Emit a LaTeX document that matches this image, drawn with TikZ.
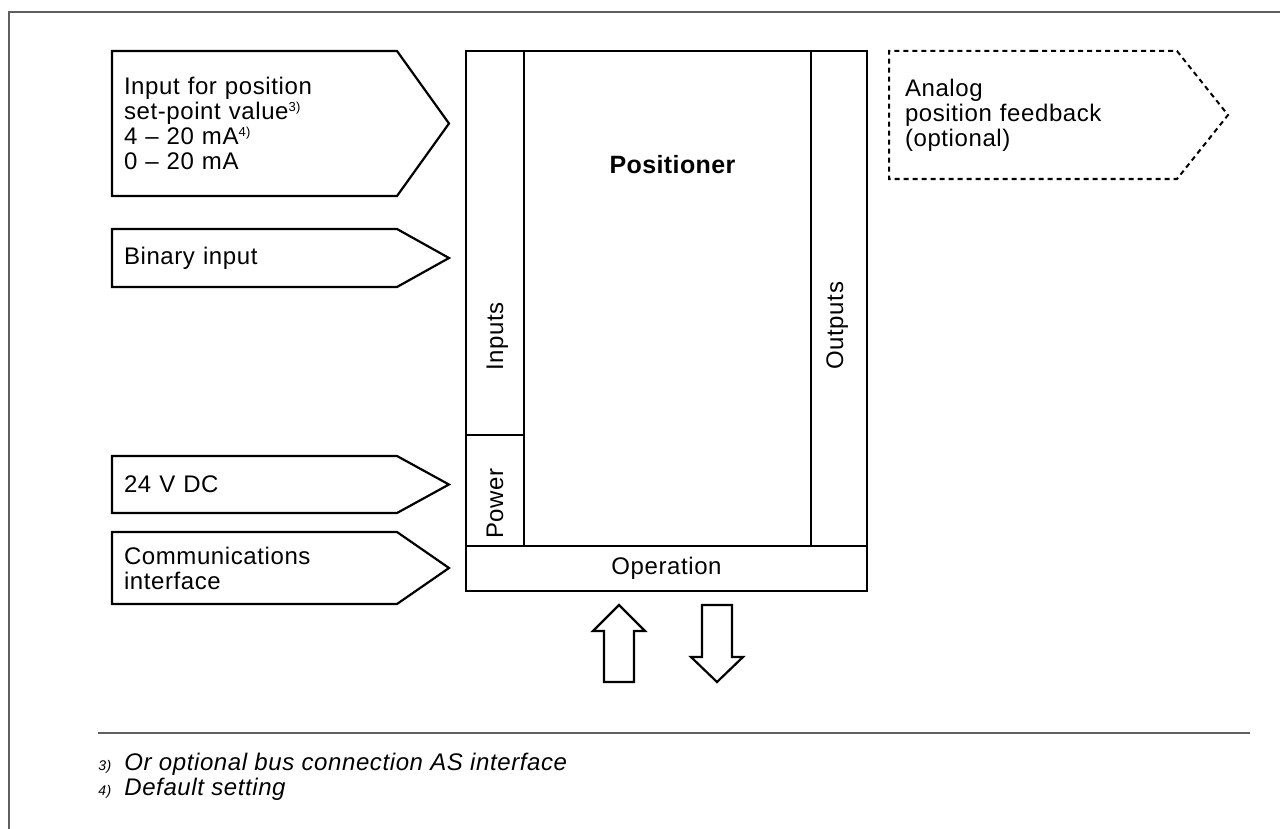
\documentclass[tikz,border=0pt]{standalone}
\usepackage{fontspec}
\setmainfont{Liberation Sans}[LetterSpace=2.5]
\usetikzlibrary{shapes.symbols,positioning,calc}
\definecolor{rulegray}{RGB}{95,95,95}
\newcommand{\fnref}[1]{\raisebox{3.8pt}{\fontsize{6.5}{6.5}\selectfont #1}}
\tikzset{
inlet/.style = {draw, line width=1.1pt, shape=signal, signal to=east, signal from=nowhere, anchor=west, align=left, text width=130.5pt, inner xsep=6pt, inner ysep=0pt, outer sep=0pt},
outlet/.style = {inlet, line width=1pt, dash pattern=on 2.5pt off 2pt, text width=128pt, inner xsep=8pt},
panel/.style = {draw, line width=1.2pt, rectangle, anchor=north west, inner sep=0pt, outer sep=0pt},
vlabel/.style = {rotate=90, anchor=base west, inner sep=0pt},
hollow/.style = {draw, line width=1.1pt, line join=miter},
frame/.style = {draw=rulegray, line width=1pt},
note/.style = {anchor=base west, inner sep=0pt, font=\itshape\fontsize{12}{12.5}\selectfont},
notemark/.style = {note, font=\itshape\fontsize{7}{8}\selectfont}
}
\begin{document}
\begin{tikzpicture}[x=0.5pt, y=-0.5pt, font=\fontsize{12}{12.5}\selectfont]
    \useasboundingbox (0,0) rectangle (1280,829);
    \draw [frame] (8.5,829) |- (1280,12);
    % signals into the positioner
    \node [inlet, minimum height=72.5pt, signal pointer angle=108.7] (setpoint) at (112,123.5) {Input for position\\ set-point value\fnref{3)}\\ 4 -- 20 mA\fnref{4)}\\ 0 -- 20 mA};
    \node [inlet, minimum height=29pt, signal pointer angle=58.3] (binary) at (112,258) {Binary input};
    \node [inlet, minimum height=28.5pt, signal pointer angle=57.5] (supply) at (112,484.5) {24 V DC};
    \node [inlet, minimum height=36pt, signal pointer angle=69.4] (comms) at (112,568) {Communications\\ interface};
    \node [outlet, minimum height=64pt, signal pointer angle=102.9] (feedback) at (889,115) {Analog\\ position feedback\\ (optional)};
    % positioner
    \node [panel, minimum width=29pt, minimum height=192pt] (inputs) at (466,51) {};
    \node [panel, minimum width=29pt, minimum height=55.5pt] (power) at (inputs.south west) {};
    \node [panel, minimum width=143.5pt, minimum height=247.5pt] (core) at (inputs.north east) {};
    \node [panel, minimum width=28pt, minimum height=247.5pt] (outputs) at (core.north east) {};
    \node [panel, minimum width=200.5pt, minimum height=22.5pt] (operation) at (power.south west) {Operation};
    \node [font=\bfseries\fontsize{12.5}{13}\selectfont\addfontfeature{LetterSpace=1.5}] (title) at ($(core.north)+(5,114)$) {Positioner};
    \node [vlabel] (inlabel) at ($(inputs.south east)+(-21,-64)$) {Inputs};
    \node [vlabel] (pwlabel) at ($(power.south east)+(-21,-7)$) {Power};
    \node [vlabel] (outlabel) at ($(outputs.south east)+(-24,-176)$) {Outputs};
    % operation arrows
    \coordinate (uptip) at ($(operation.south)+(-47.5,14)$);
    \coordinate (downtip) at ($(operation.south)+(50.5,91)$);
    \draw [hollow] (uptip) -- ++(26,26) -- ++(-11,0) -- ++(0,51) -- ++(-30,0) -- ++(0,-51) -- ++(-11,0) -- cycle;
    \draw [hollow] (downtip) -- ++(26,-25) -- ++(-11,0) -- ++(0,-52) -- ++(-30,0) -- ++(0,52) -- ++(-11,0) -- cycle;
    % footnotes
    \draw [frame, line width=0.8pt] (98,733) -- (1250,733);
    \node [note] (noteA) at (124,770) {Or optional bus connection AS interface};
    \node [note] (noteB) at (124,795) {Default setting};
    \node [notemark] (markA) at (98,770) {3)};
    \node [notemark] (markB) at (98,795) {4)};
\end{tikzpicture}
\end{document}
